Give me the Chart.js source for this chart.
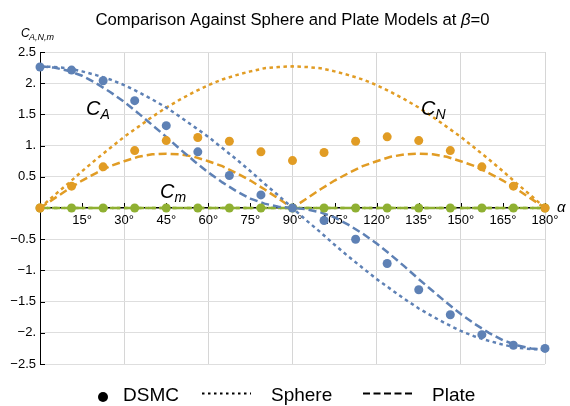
<!DOCTYPE html>
<html>
<head>
<meta charset="utf-8">
<script src="https://cdn.jsdelivr.net/npm/chart.js@4.4.0/dist/chart.umd.min.js"></script>
<style>
  html, body { margin: 0; padding: 0; background: #fff; }
  #wrap { width: 570px; height: 406px; }
</style>
</head>
<body>
<div id="wrap"><canvas id="chart" width="570" height="406"></canvas></div>
<script>
// model curves, sampled every 5 degrees
const alphaFine = [0, 5, 10, 15, 20, 25, 30, 35, 40, 45, 50, 55, 60, 65, 70, 75, 80, 85, 90,
  95, 100, 105, 110, 115, 120, 125, 130, 135, 140, 145, 150, 155, 160, 165, 170, 175, 180];
const sphereCA = [2.27, 2.26, 2.24, 2.19, 2.13, 2.06, 1.97, 1.86, 1.74, 1.61, 1.46, 1.30, 1.14, 0.96, 0.78, 0.59, 0.39, 0.20, 0,
  -0.20, -0.39, -0.59, -0.78, -0.96, -1.14, -1.30, -1.46, -1.61, -1.74, -1.86, -1.97, -2.06, -2.13, -2.19, -2.24, -2.26, -2.27];
const sphereCN = [0, 0.20, 0.39, 0.59, 0.78, 0.96, 1.14, 1.30, 1.46, 1.61, 1.74, 1.86, 1.97, 2.06, 2.13, 2.19, 2.24, 2.26, 2.27,
  2.26, 2.24, 2.19, 2.13, 2.06, 1.97, 1.86, 1.74, 1.61, 1.46, 1.30, 1.14, 0.96, 0.78, 0.59, 0.39, 0.20, 0];
const plateCA = [2.27, 2.25, 2.20, 2.12, 2.00, 1.86, 1.70, 1.52, 1.33, 1.14, 0.94, 0.75, 0.57, 0.41, 0.27, 0.15, 0.07, 0.02, 0,
  -0.02, -0.07, -0.15, -0.27, -0.41, -0.57, -0.75, -0.94, -1.14, -1.33, -1.52, -1.70, -1.86, -2.00, -2.12, -2.20, -2.25, -2.27];
const plateCN = [0, 0.15, 0.30, 0.44, 0.56, 0.67, 0.75, 0.82, 0.86, 0.87, 0.86, 0.82, 0.75, 0.67, 0.56, 0.44, 0.30, 0.15, 0,
  0.15, 0.30, 0.44, 0.56, 0.67, 0.75, 0.82, 0.86, 0.87, 0.86, 0.82, 0.75, 0.67, 0.56, 0.44, 0.30, 0.15, 0];
const cmAlpha = [0, 180];
const cmModel = [0, 0];

// DSMC results
const alphaDsmc = [0, 11.25, 22.5, 33.75, 45, 56.25, 67.5, 78.75, 90, 101.25, 112.5, 123.75, 135, 146.25, 157.5, 168.75, 180];
const dsmcCA = [2.26, 2.21, 2.04, 1.72, 1.32, 0.90, 0.52, 0.21, 0, -0.20, -0.50, -0.89, -1.31, -1.71, -2.03, -2.20, -2.25];
const dsmcCN = [0, 0.35, 0.66, 0.92, 1.08, 1.13, 1.07, 0.90, 0.76, 0.89, 1.07, 1.14, 1.08, 0.92, 0.66, 0.35, 0];
const dsmcCm = [0, 0, 0, 0, 0, 0, 0, 0, 0, 0, 0, 0, 0, 0, 0, 0, 0];

const BLUE = "rgb(94,129,181)";
const ORANGE = "rgb(225,156,36)";
const GREEN = "rgb(143,176,50)";
const FONT = '"Liberation Sans", Arial, sans-serif';
const DOT = [3.5, 3.5];
const DASH = [8, 4];

const pts = (xs, ys) => xs.map((x, i) => ({ x: x, y: ys[i] }));

function curve(xs, ys, color, dash) {
  return {
    data: pts(xs, ys),
    borderColor: color,
    borderWidth: 2.5,
    borderDash: dash,
    pointRadius: 0,
    tension: 0,
    fill: false,
    clip: false,
    order: 2,
  };
}

function dots(xs, ys, color) {
  return {
    data: pts(xs, ys),
    showLine: false,
    pointRadius: 4.5,
    pointBackgroundColor: color,
    pointBorderWidth: 0,
    clip: false,
    order: 1,
  };
}

function fmtY(v) {
  if (v === 0) return "";
  let s = Number.isInteger(v) ? v + "." : String(v);
  return s.replace("-", "\u2212");
}

// text, custom ticks and legend drawn on the canvas
const decor = {
  id: "decor",
  beforeDatasetsDraw(chart) {
    const { ctx, scales } = chart;
    const x = scales.x, y = scales.y;
    const y0 = y.getPixelForValue(0);
    const x0 = x.getPixelForValue(0);
    ctx.save();
    ctx.strokeStyle = "#000";
    ctx.lineWidth = 1;
    x.ticks.forEach((t) => {
      if (t.value === 0) return;
      const px = Math.round(x.getPixelForValue(t.value)) + 0.5;
      ctx.beginPath();
      ctx.moveTo(px, y0);
      ctx.lineTo(px, y0 - 5);
      ctx.stroke();
    });
    y.ticks.forEach((t) => {
      if (t.value === 0) return;
      const py = Math.round(y.getPixelForValue(t.value)) + 0.5;
      ctx.beginPath();
      ctx.moveTo(x0, py);
      ctx.lineTo(x0 + 5, py);
      ctx.stroke();
    });
    ctx.restore();
  },
  afterDraw(chart) {
    const ctx = chart.ctx;
    ctx.save();
    ctx.fillStyle = "#000";
    ctx.textBaseline = "alphabetic";

    // title
    const TF = "16.7px " + FONT;
    const t1 = "Comparison Against Sphere and Plate Models at ";
    ctx.font = TF;
    const w1 = ctx.measureText(t1).width;
    const w3 = ctx.measureText("=0").width;
    ctx.font = "italic " + TF;
    const w2 = ctx.measureText("\u03b2").width;
    let tx = 292.5 - (w1 + w2 + w3) / 2;
    ctx.font = TF;
    ctx.fillText(t1, tx, 25);
    ctx.font = "italic " + TF;
    ctx.fillText("\u03b2", tx + w1, 25);
    ctx.font = TF;
    ctx.fillText("=0", tx + w1 + w2, 25);

    // axis labels
    ctx.font = "italic 12px " + FONT;
    ctx.fillText("C", 21, 37);
    ctx.font = "italic 9px " + FONT;
    ctx.fillText("A,N,m", 29, 40);
    ctx.font = "italic 15px " + FONT;
    ctx.fillText("\u03b1", 557, 212);

    // curve labels
    function sub(main, s, x, yb) {
      ctx.font = "italic 20px " + FONT;
      ctx.fillText(main, x, yb);
      const w = ctx.measureText(main).width;
      ctx.font = "italic 14px " + FONT;
      ctx.fillText(s, x + w, yb + 4);
    }
    sub("C", "A", 86, 115);
    sub("C", "N", 421, 115);
    sub("C", "m", 160, 198);

    // legend
    ctx.beginPath();
    ctx.arc(103, 397, 5, 0, Math.PI * 2);
    ctx.fill();
    ctx.font = "19px " + FONT;
    ctx.fillText("DSMC", 123, 401);
    ctx.fillText("Sphere", 271, 401);
    ctx.fillText("Plate", 432, 401);
    ctx.strokeStyle = "#000";
    ctx.lineWidth = 2;
    ctx.setLineDash([2.5, 3.5]);
    ctx.beginPath();
    ctx.moveTo(202, 393.5);
    ctx.lineTo(251, 393.5);
    ctx.stroke();
    ctx.setLineDash([7, 3.5]);
    ctx.beginPath();
    ctx.moveTo(363, 393.5);
    ctx.lineTo(413, 393.5);
    ctx.stroke();
    ctx.restore();
  },
};

new Chart(document.getElementById("chart"), {
  type: "line",
  data: {
    datasets: [
      curve(alphaFine, sphereCA, BLUE, DOT),
      curve(alphaFine, plateCA, BLUE, DASH),
      curve(alphaFine, sphereCN, ORANGE, DOT),
      curve(alphaFine, plateCN, ORANGE, DASH),
      curve(cmAlpha, cmModel, GREEN, DOT),
      curve(cmAlpha, cmModel, GREEN, DASH),
      dots(alphaDsmc, dsmcCA, BLUE),
      dots(alphaDsmc, dsmcCN, ORANGE),
      dots(alphaDsmc, dsmcCm, GREEN),
    ],
  },
  options: {
    responsive: false,
    animation: false,
    devicePixelRatio: 1,
    layout: { padding: { left: 0, top: 52, right: 25, bottom: 42 } },
    plugins: {
      legend: { display: false },
      title: { display: false },
      tooltip: { enabled: false },
    },
    scales: {
      x: {
        type: "linear",
        position: { y: 0 },
        min: 0,
        max: 180,
        afterFit: (s) => { s.height = 0; },
        border: { display: true, color: "#000", width: 1.5 },
        grid: {
          drawTicks: false,
          color: (c) => (c.tick && c.tick.value > 0 && c.tick.value % 30 === 0 ? "#d6d6d6" : "rgba(0,0,0,0)"),
        },
        ticks: {
          stepSize: 15,
          autoSkip: false,
          maxRotation: 0,
          padding: 5,
          color: "#000",
          font: { family: FONT, size: 13 },
          callback: (v) => (v === 0 ? "" : v + "\u00b0"),
        },
      },
      y: {
        type: "linear",
        position: "left",
        min: -2.5,
        max: 2.5,
        afterFit: (s) => { s.width = 40; },
        border: { display: true, color: "#000", width: 1 },
        grid: {
          drawTicks: false,
          color: (c) => (c.tick && c.tick.value === 0 ? "rgba(0,0,0,0)" : "#dedede"),
        },
        ticks: {
          stepSize: 0.5,
          padding: 4,
          color: "#000",
          font: { family: FONT, size: 13 },
          callback: (v) => fmtY(v),
        },
      },
    },
  },
  plugins: [decor],
});
</script>
</body>
</html>
